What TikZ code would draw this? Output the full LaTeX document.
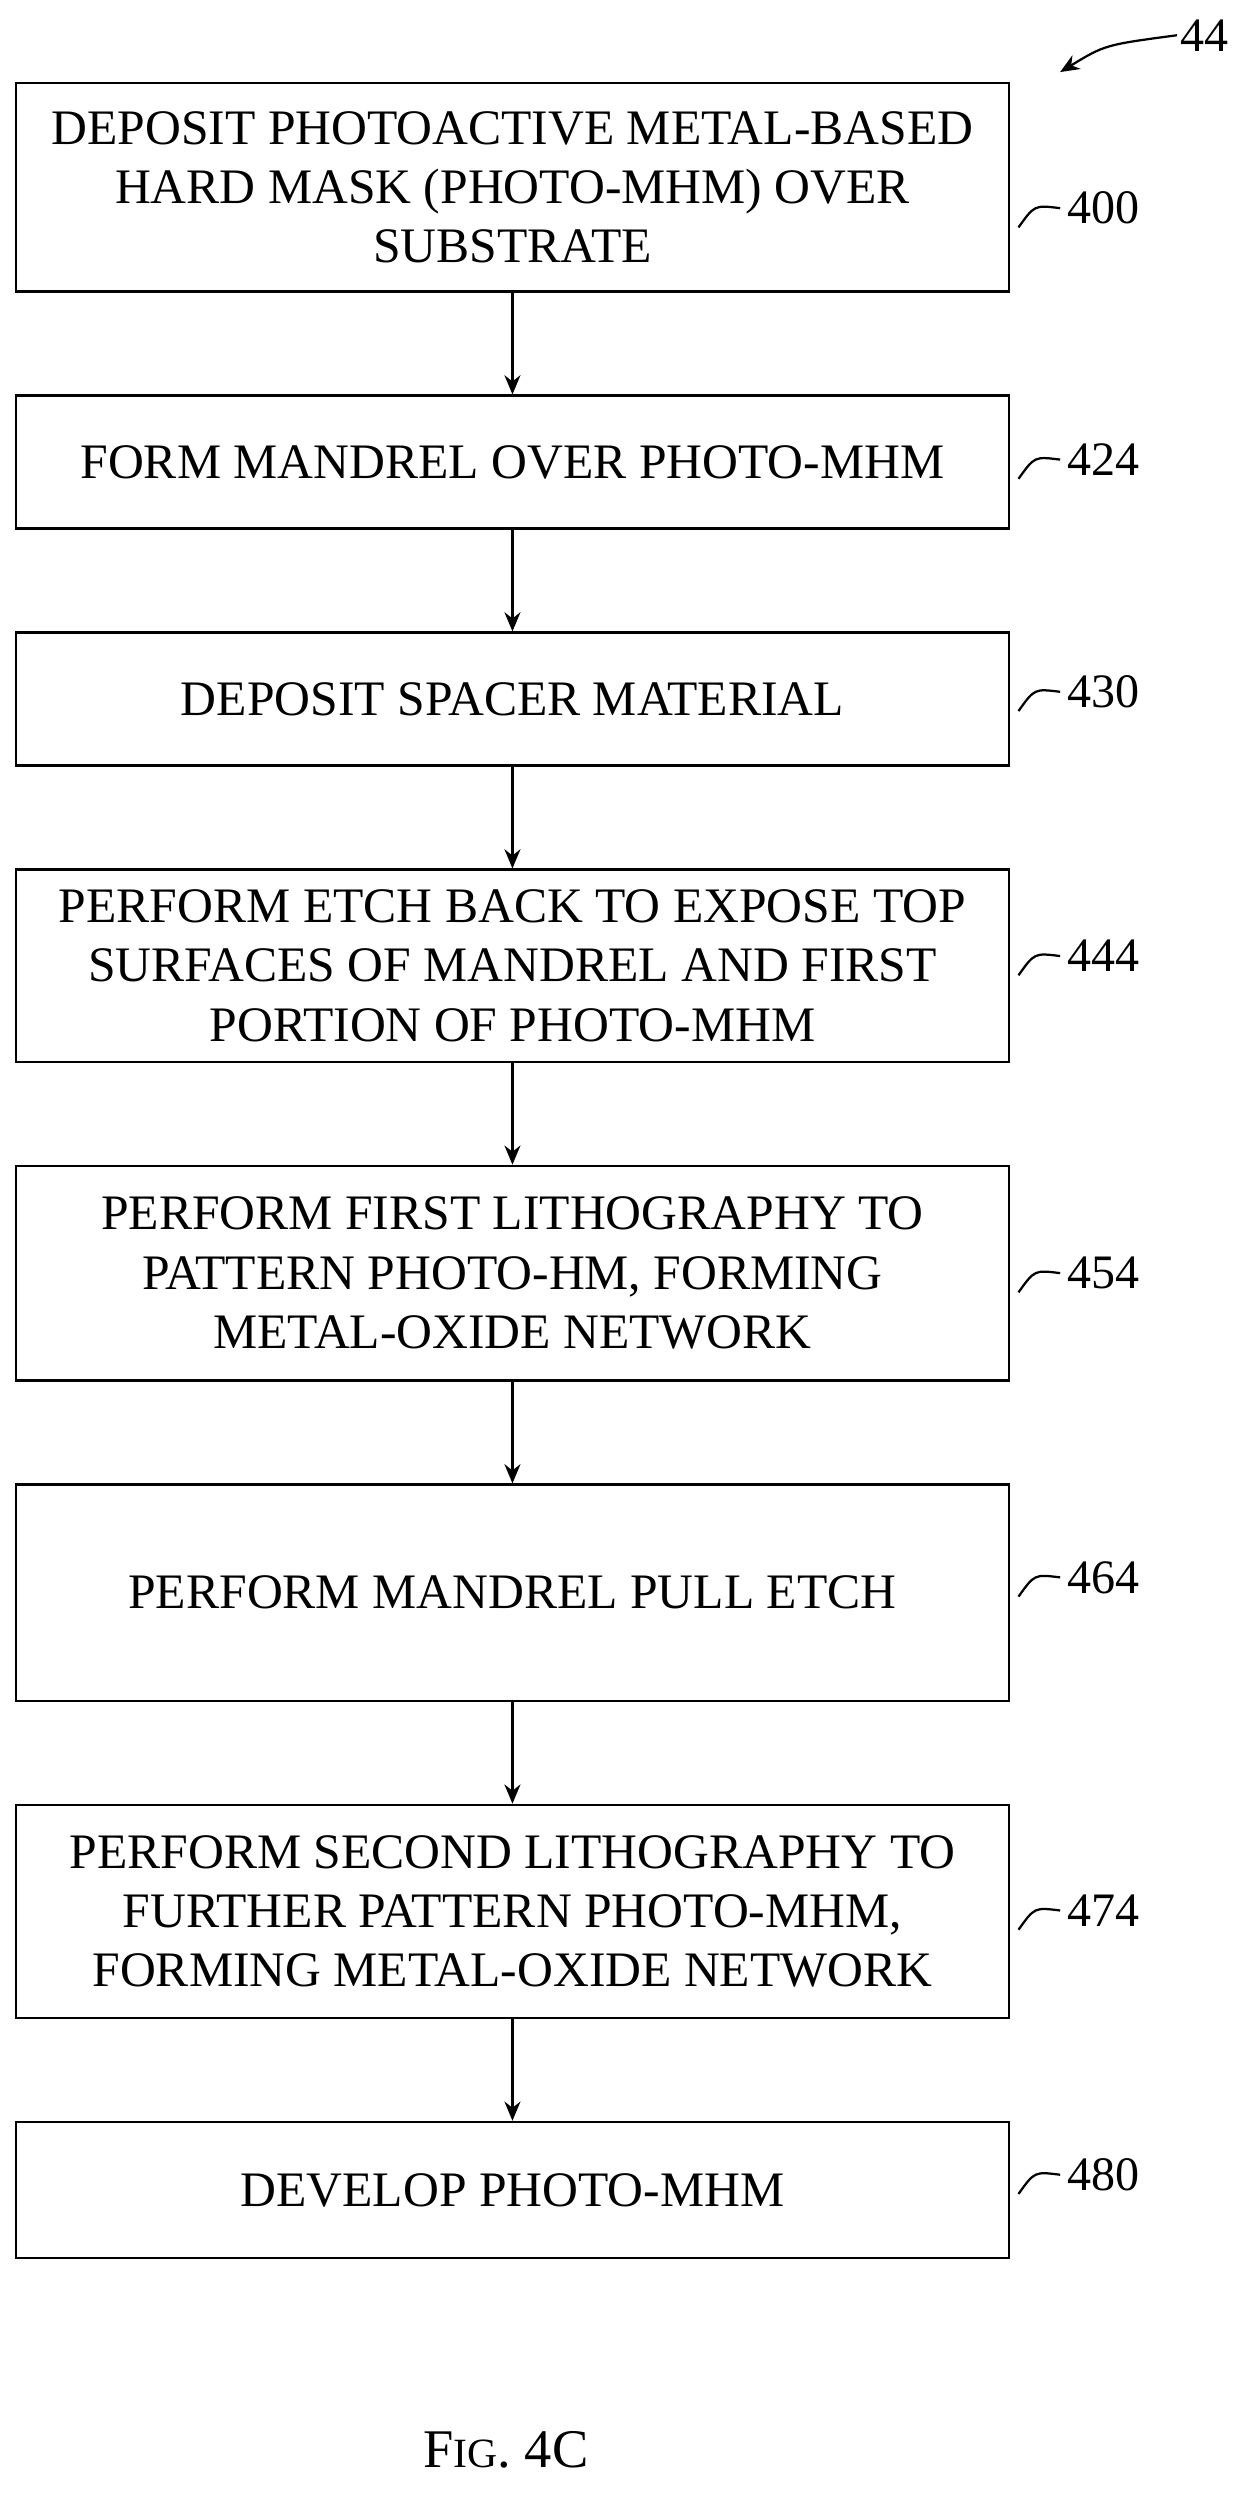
\documentclass[tikz,border=0pt]{standalone}
\usepackage{fontspec}
\setmainfont{Liberation Serif}
\usetikzlibrary{arrows.meta}
\begin{document}
\begin{tikzpicture}[x=0.5pt,y=-0.5pt,
  stepbox/.style={draw,line width=0.7pt,minimum width=310pt,align=center,font=\fontsize{15.5}{18.5}\selectfont,inner sep=0pt},
  arr/.style={-{Stealth[length=6pt,width=5pt]},line width=0.7pt},
  lbl/.style={font=\fontsize{15}{18}\selectfont,anchor=west,inner sep=1pt},
  tick/.style={line width=0.7pt}]
\useasboundingbox (0,0) rectangle (778,1563);
\node[stepbox,minimum height=65pt] (b1) at (320,117) {DEPOSIT PHOTOACTIVE METAL-BASED\\HARD MASK (PHOTO-MHM) OVER\\SUBSTRATE};
\node[stepbox,minimum height=41.5pt] (b2) at (320,288.5) {FORM MANDREL OVER PHOTO-MHM};
\node[stepbox,minimum height=41.5pt] (b3) at (320,436.5) {DEPOSIT SPACER MATERIAL};
\node[stepbox,minimum height=60pt] (b4) at (320,603) {PERFORM ETCH BACK TO EXPOSE TOP\\SURFACES OF MANDREL AND FIRST\\PORTION OF PHOTO-MHM};
\node[stepbox,minimum height=67pt] (b5) at (320,795) {PERFORM FIRST LITHOGRAPHY TO\\PATTERN PHOTO-HM, FORMING\\METAL-OXIDE NETWORK};
\node[stepbox,minimum height=67.5pt] (b6) at (320,994.5) {PERFORM MANDREL PULL ETCH};
\node[stepbox,minimum height=66.5pt] (b7) at (320,1193.5) {PERFORM SECOND LITHOGRAPHY TO\\FURTHER PATTERN PHOTO-MHM,\\FORMING METAL-OXIDE NETWORK};
\node[stepbox,minimum height=42.5pt] (b8) at (320,1367.5) {DEVELOP PHOTO-MHM};
\foreach \a/\b in {b1/b2,b2/b3,b3/b4,b4/b5,b5/b6,b6/b7,b7/b8}
  \draw[arr] (\a.south) -- (\b.north);
\foreach \n/\y/\t in {1/130/400,2/287/424,3/432/430,4/597/444,5/795/454,6/985/464,7/1193/474,8/1358/480}{
  \node[lbl] (l\n) at (664,\y) {\t};
  \draw[tick] ([xshift=-14pt,yshift=-6pt]l\n.west) .. controls ([xshift=-9pt,yshift=1pt]l\n.west) .. ([xshift=-1pt]l\n.west);
}
\node[lbl] (l44) at (735,22) {44};
\coordinate (a44) at (662,45);
\draw[arr] (l44.west) .. controls (690,28) .. (a44);
\node[font=\fontsize{17}{20}\selectfont] (fig) at (316,1530) {F{\fontsize{13}{16}\selectfont IG}. 4C};
\end{tikzpicture}
\end{document}
